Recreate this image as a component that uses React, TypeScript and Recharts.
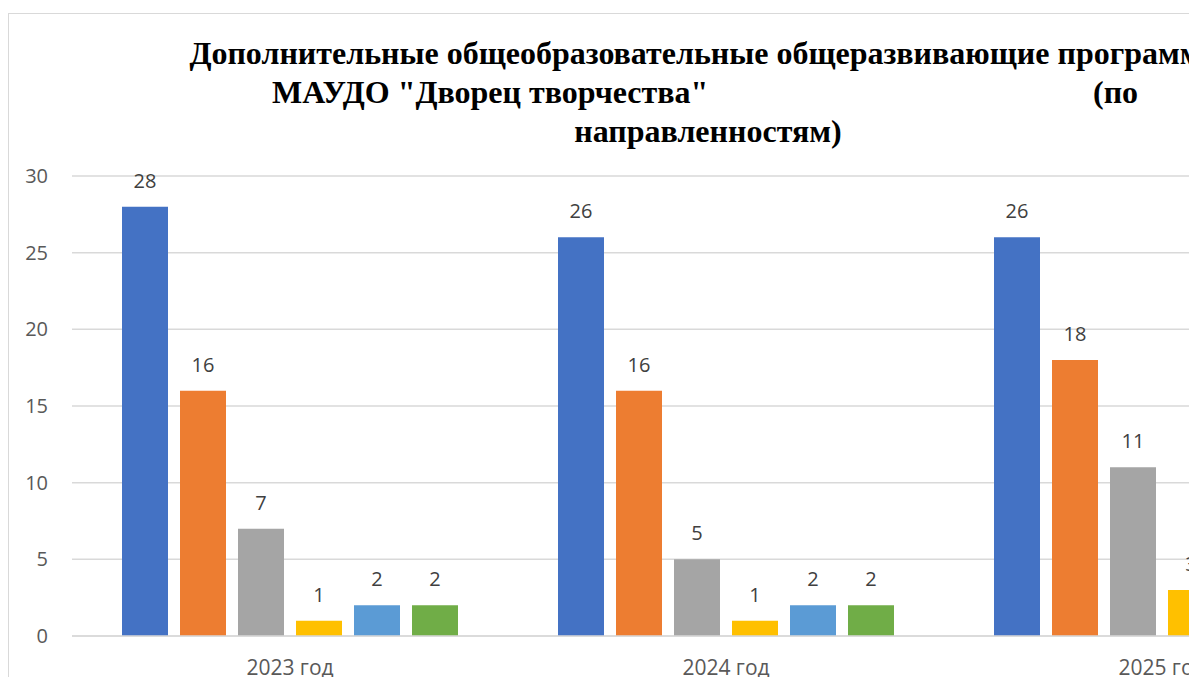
import { Bar, BarChart, CartesianGrid, LabelList, XAxis, YAxis } from 'recharts';

const years = ['2023 год', '2024 год', '2025 год'];
const technical = [28, 26, 26];
const artistic = [16, 16, 18];
const social = [7, 5, 11];
const natural = [1, 1, 3];
const sport = [2, 2, 2];
const tourism = [2, 2, 2];
const yTicks = [0, 5, 10, 15, 20, 25, 30];

const series = [
  { key: 'technical', name: 'Техническая', color: '#4472C4' },
  { key: 'artistic', name: 'Художественная', color: '#ED7D31' },
  { key: 'social', name: 'Социально-гуманитарная', color: '#A5A5A5' },
  { key: 'natural', name: 'Естественнонаучная', color: '#FFC000' },
  { key: 'sport', name: 'Физкультурно-спортивная', color: '#5B9BD5' },
  { key: 'tourism', name: 'Туристско-краеведческая', color: '#70AD47' },
];

const chartData = years.map((year, i) => ({
  year,
  technical: technical[i],
  artistic: artistic[i],
  social: social[i],
  natural: natural[i],
  sport: sport[i],
  tourism: tourism[i],
}));

const font = '"Open Sans", "Noto Sans", sans-serif';
const titleStyle: React.CSSProperties = {
  position: 'absolute',
  fontFamily: '"Liberation Serif", serif',
  fontWeight: 700,
  fontSize: 32,
  lineHeight: '36px',
  color: '#000',
  whiteSpace: 'nowrap',
};

export default function App() {
  return (
    <div
      style={{
        position: 'fixed',
        left: 0,
        top: 0,
        width: 1189,
        height: 677,
        overflow: 'hidden',
        background: '#fff',
      }}
    >
      <div
        style={{
          position: 'absolute',
          left: 8,
          top: 13,
          width: 1400,
          height: 720,
          border: '1px solid #d9d9d9',
          boxSizing: 'border-box',
        }}
      />
      <div style={{ position: 'absolute', left: 0, top: 0 }}>
        <BarChart
          width={1400}
          height={690}
          data={chartData}
          margin={{ top: 176, right: 20, left: 8, bottom: 0 }}
          barCategoryGap={50}
          barGap={12}
        >
          <CartesianGrid vertical={false} stroke="#d9d9d9" strokeWidth={1.5} />
          <XAxis
            dataKey="year"
            height={54}
            tickLine={false}
            axisLine={{ stroke: '#d9d9d9', strokeWidth: 1.5 }}
            tickMargin={18}
            tick={{ fill: '#595959', fontSize: 21, fontFamily: font }}
            interval={0}
          />
          <YAxis
            width={64}
            domain={[0, 30]}
            ticks={yTicks}
            tickLine={false}
            axisLine={false}
            tickMargin={18}
            tick={{ fill: '#595959', fontSize: 20, fontFamily: font }}
          />
          {series.map((s) => (
            <Bar key={s.key} dataKey={s.key} name={s.name} fill={s.color} isAnimationActive={false}>
              <LabelList
                dataKey={s.key}
                position="top"
                offset={19}
                fill="#404040"
                fontSize={20}
                fontFamily={font}
              />
            </Bar>
          ))}
        </BarChart>
      </div>
      <div style={{ ...titleStyle, left: 8, width: 1400, top: 35, textAlign: 'center' }}>
        Дополнительные общеобразовательные общеразвивающие программы
      </div>
      <div style={{ ...titleStyle, left: 272, top: 74 }}>МАУДО "Дворец творчества"</div>
      <div style={{ ...titleStyle, left: 1093, top: 74 }}>(по</div>
      <div style={{ ...titleStyle, left: 8, width: 1400, top: 113, textAlign: 'center' }}>
        направленностям)
      </div>
    </div>
  );
}
